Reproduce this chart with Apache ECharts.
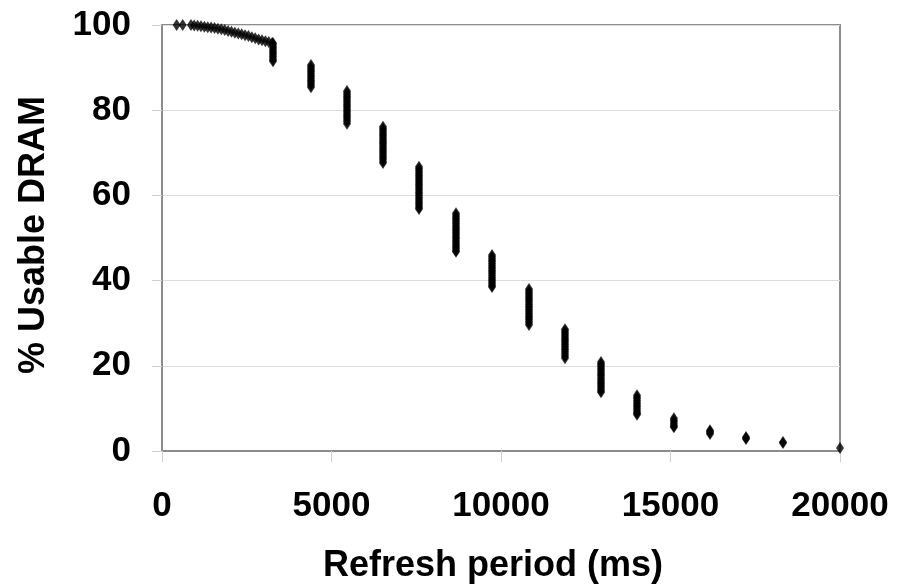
<!DOCTYPE html>
<html>
<head>
<meta charset="utf-8">
<script src="https://cdn.jsdelivr.net/npm/echarts@6/dist/echarts.min.js"></script>
<style>
html,body{margin:0;padding:0;background:#fff;}
#chart{width:907px;height:585px;}
</style>
</head>
<body>
<div id="chart"></div>
<script>
// Early (low refresh period) curve
const curvePeriods = [432, 610, 855, 950, 1050, 1150, 1250, 1350, 1450, 1550, 1650, 1750, 1850, 1950, 2050, 2150, 2250, 2350, 2450, 2550, 2650, 2750, 2850, 2950, 3050, 3150, 3250];
const curveUsable = [100, 100, 100, 99.9, 99.8, 99.7, 99.6, 99.5, 99.4, 99.3, 99.1, 99.0, 98.8, 98.6, 98.4, 98.2, 98.0, 97.8, 97.6, 97.4, 97.1, 96.9, 96.6, 96.4, 96.2, 96.0, 95.8];

// Refresh periods of the vertical clusters
const clusterPeriods = [3274, 4395, 5457, 6519, 7581, 8672, 9735, 10826, 11888, 12950, 14012, 15100, 16165, 17227, 18318, 20000];
// % usable DRAM values within each cluster
const clusterUsable = [
  [95.8, 95.4, 95.0, 94.6, 94.2, 93.8, 93.4, 93.0, 92.6, 92.2, 91.8, 91.5],
  [90.6, 90.2, 89.8, 89.4, 89.0, 88.6, 88.2, 87.8, 87.4, 87.0, 86.6, 86.2, 85.8, 85.4],
  [84.5, 84.1, 83.7, 83.3, 82.9, 82.5, 82.1, 81.7, 81.3, 80.9, 80.5, 80.1, 79.7, 79.3, 78.9, 78.5, 78.1, 77.7, 77.3, 76.8],
  [76.1, 75.7, 75.3, 74.9, 74.5, 74.1, 73.7, 73.3, 72.9, 72.5, 72.1, 71.7, 71.3, 70.9, 70.5, 70.1, 69.7, 69.3, 68.9, 68.5, 68.0, 67.6],
  [66.7, 66.3, 65.9, 65.5, 65.1, 64.7, 64.3, 63.9, 63.5, 63.1, 62.7, 62.3, 61.9, 61.5, 61.1, 60.7, 60.3, 59.9, 59.5, 59.1, 58.7, 58.3, 57.9, 57.5, 57.1, 56.8],
  [55.8, 55.4, 55.0, 54.6, 54.2, 53.8, 53.4, 53.0, 52.6, 52.2, 51.8, 51.4, 51.0, 50.6, 50.2, 49.8, 49.4, 49.0, 48.6, 48.2, 47.8, 47.4, 47.0, 46.8],
  [46.0, 45.6, 45.2, 44.8, 44.4, 44.0, 43.6, 43.2, 42.8, 42.4, 42.0, 41.6, 41.2, 40.8, 40.4, 40.0, 39.6, 39.2, 38.8, 38.5],
  [38.0, 37.6, 37.2, 36.8, 36.4, 36.0, 35.6, 35.2, 34.8, 34.4, 34.0, 33.6, 33.2, 32.8, 32.4, 32.0, 31.6, 31.2, 30.8, 30.4, 30.0, 29.6],
  [28.6, 28.2, 27.8, 27.4, 27.0, 26.6, 26.2, 25.8, 25.4, 25.0, 24.6, 24.2, 23.8, 23.4, 23.0, 22.6, 22.2, 21.8],
  [20.9, 20.5, 20.1, 19.7, 19.3, 18.9, 18.5, 18.1, 17.7, 17.3, 16.9, 16.5, 16.1, 15.7, 15.3, 14.9, 14.5, 14.1, 13.8],
  [13.1, 12.7, 12.3, 11.9, 11.5, 11.1, 10.7, 10.3, 9.9, 9.5, 9.1, 8.8, 8.5],
  [7.7, 7.3, 6.9, 6.5, 6.1, 5.8, 5.6],
  [4.9, 4.6, 4.3, 4.0],
  [3.3, 3.0, 2.8],
  [2.1, 1.9],
  [0.7]
];

const xTicks = [0, 5000, 10000, 15000, 20000];
const yTicks = [0, 20, 40, 60, 80, 100];

const points = [];
curvePeriods.forEach((p, i) => points.push([p, curveUsable[i]]));
clusterPeriods.forEach((p, i) => clusterUsable[i].forEach(v => points.push([p, v])));

const chart = echarts.init(document.getElementById('chart'), null, {renderer: 'canvas'});
const font = '"Liberation Sans", Arial, sans-serif';
chart.setOption({
  animation: false,
  backgroundColor: '#fff',
  grid: {left: 162, right: 67, top: 25, bottom: 134, containLabel: false, outerBoundsMode: 'none',
    show: true, borderColor: '#8c8c8c', borderWidth: 2, backgroundColor: 'transparent'},
  xAxis: {
    type: 'value', min: xTicks[0], max: xTicks[xTicks.length - 1], interval: 5000,
    name: 'Refresh period (ms)', nameLocation: 'middle', nameGap: 97,
    nameTextStyle: {fontFamily: font, fontWeight: 'bold', fontSize: 36, color: '#000', padding: [0, 16, 0, 0]},
    axisLine: {show: true, lineStyle: {color: '#8c8c8c', width: 2}},
    axisTick: {show: true, length: 11, lineStyle: {color: '#d0d0d0', width: 1}},
    axisLabel: {fontFamily: font, fontWeight: 'bold', fontSize: 35, color: '#000', margin: 38,
      formatter: v => String(v)},
    splitLine: {show: false}
  },
  yAxis: {
    type: 'value', min: yTicks[0], max: yTicks[yTicks.length - 1], interval: 20,
    name: '% Usable DRAM', nameLocation: 'middle', nameGap: 110, nameRotate: 90,
    nameTextStyle: {fontFamily: font, fontWeight: 'bold', fontSize: 36, color: '#000', padding: [0, 0, 0, 6]},
    axisLine: {show: true, lineStyle: {color: '#8c8c8c', width: 2}},
    axisTick: {show: true, length: 10, lineStyle: {color: '#d0d0d0', width: 1}},
    axisLabel: {fontFamily: font, fontWeight: 'bold', fontSize: 35, color: '#000', margin: 31,
      formatter: v => String(v)},
    splitLine: {show: true, lineStyle: {color: '#dcdcdc', width: 1}}
  },
  series: [{
    type: 'scatter',
    data: points,
    symbol: 'diamond',
    symbolSize: [8, 12],
    itemStyle: {color: '#000'},
    clip: false,
    z: 5
  }]
});
</script>
</body>
</html>
